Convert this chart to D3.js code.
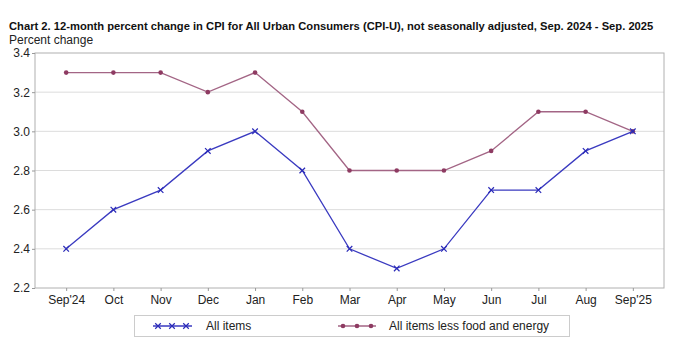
<!DOCTYPE html>
<html>
<head>
<meta charset="utf-8">
<script src="https://cdn.jsdelivr.net/npm/d3@7"></script>
<style>
body { margin: 0; background: #fff; }
text { font-family: "Liberation Sans Narrow", "Liberation Sans", Arial, sans-serif; }
</style>
</head>
<body>
<div id="chart"></div>
<script>
var months = ["Sep'24", "Oct", "Nov", "Dec", "Jan", "Feb", "Mar", "Apr", "May", "Jun", "Jul", "Aug", "Sep'25"];
var allItems = [2.4, 2.6, 2.7, 2.9, 3.0, 2.8, 2.4, 2.3, 2.4, 2.7, 2.7, 2.9, 3.0];
var coreItems = [3.3, 3.3, 3.3, 3.2, 3.3, 3.1, 2.8, 2.8, 2.8, 2.9, 3.1, 3.1, 3.0];
var yTicks = [2.2, 2.4, 2.6, 2.8, 3.0, 3.2, 3.4];

var w = 680, h = 351;
var plotLeft = 35, plotRight = 664, plotTop = 53, plotBottom = 288;

var svg = d3.select("#chart").append("svg").attr("width", w).attr("height", h);

var xScale = d3.scalePoint().domain(months).range([plotLeft, plotRight]).padding(0.66);
var yScale = d3.scaleLinear().domain([2.2, 3.4]).range([plotBottom, plotTop]);

// title
svg.append("text").attr("x", 9).attr("y", 30)
    .style("font-size", "11.2px").style("font-weight", "bold").style("fill", "#111")
    .text("Chart 2. 12-month percent change in CPI for All Urban Consumers (CPI-U), not seasonally adjusted, Sep. 2024 - Sep. 2025");
svg.append("text").attr("x", 9).attr("y", 44)
    .style("font-size", "12px").style("fill", "#222")
    .text("Percent change");

// grid lines
svg.append("g").selectAll("line").data(yTicks.slice(1, -1)).enter().append("line")
    .attr("x1", plotLeft).attr("x2", plotRight)
    .attr("y1", function(d) { return yScale(d); })
    .attr("y2", function(d) { return yScale(d); })
    .style("stroke", "#dcdcdc").style("stroke-width", 1);

// plot border
svg.append("rect").attr("x", plotLeft).attr("y", plotTop).attr("width", plotRight - plotLeft).attr("height", plotBottom - plotTop)
    .style("fill", "none").style("stroke", "#b0b0b0").style("stroke-width", 1);

// y axis
var yAxis = d3.axisLeft(yScale).tickValues(yTicks).tickFormat(d3.format(".1f")).tickSize(3).tickPadding(2);
var gy = svg.append("g").attr("transform", "translate(" + plotLeft + ",0)").call(yAxis);
gy.select(".domain").remove();
gy.selectAll("line").style("stroke", "#999");
gy.selectAll("text").style("font-size", "12px").style("fill", "#222")
    .style("font-family", "'Liberation Sans Narrow', 'Liberation Sans', sans-serif");

// x axis
var xAxis = d3.axisBottom(xScale).tickSize(3).tickPadding(4);
var gx = svg.append("g").attr("transform", "translate(0," + plotBottom + ")").call(xAxis);
gx.select(".domain").remove();
gx.selectAll("line").style("stroke", "#999");
gx.selectAll("text").style("font-size", "12px").style("fill", "#222")
    .style("font-family", "'Liberation Sans Narrow', 'Liberation Sans', sans-serif");

var line = d3.line()
    .x(function(d, i) { return xScale(months[i]); })
    .y(function(d) { return yScale(d); });

// core series
svg.append("path").datum(coreItems).attr("d", line)
    .style("fill", "none").style("stroke", "#a36585").style("stroke-width", 1.3);
svg.append("g").selectAll("circle").data(coreItems).enter().append("circle")
    .attr("cx", function(d, i) { return xScale(months[i]); })
    .attr("cy", function(d) { return yScale(d); })
    .attr("r", 2.3).style("fill", "#8e3b62");

// all items series
svg.append("path").datum(allItems).attr("d", line)
    .style("fill", "none").style("stroke", "#3a3ac0").style("stroke-width", 1.3);
var cross = d3.symbol().type(d3.symbolX).size(22);
svg.append("g").selectAll("path").data(allItems).enter().append("path")
    .attr("d", cross)
    .attr("transform", function(d, i) { return "translate(" + xScale(months[i]) + "," + yScale(d) + ")"; })
    .style("fill", "none").style("stroke", "#2a2ab8").style("stroke-width", 1.2);

// legend
var lg = svg.append("g");
lg.append("rect").attr("x", 134.5).attr("y", 315.5).attr("width", 435).attr("height", 21)
    .style("fill", "#fff").style("stroke", "#ccc");
var legY = 326;
lg.append("line").attr("x1", 153).attr("x2", 192).attr("y1", legY).attr("y2", legY)
    .style("stroke", "#3a3ac0").style("stroke-width", 1.3);
lg.selectAll(".lx").data([158, 172, 186]).enter().append("path")
    .attr("d", cross)
    .attr("transform", function(d) { return "translate(" + d + "," + legY + ")"; })
    .style("fill", "none").style("stroke", "#2a2ab8").style("stroke-width", 1.2);
lg.append("text").attr("x", 206).attr("y", legY + 4).style("font-size", "12px").style("fill", "#222")
    .text("All items");
lg.append("line").attr("x1", 338).attr("x2", 376).attr("y1", legY).attr("y2", legY)
    .style("stroke", "#a36585").style("stroke-width", 1.3);
lg.selectAll(".lc").data([343, 357, 371]).enter().append("circle")
    .attr("cx", function(d) { return d; }).attr("cy", legY).attr("r", 2.3).style("fill", "#8e3b62");
lg.append("text").attr("x", 389).attr("y", legY + 4).style("font-size", "12px").style("fill", "#222")
    .text("All items less food and energy");
</script>
</body>
</html>
